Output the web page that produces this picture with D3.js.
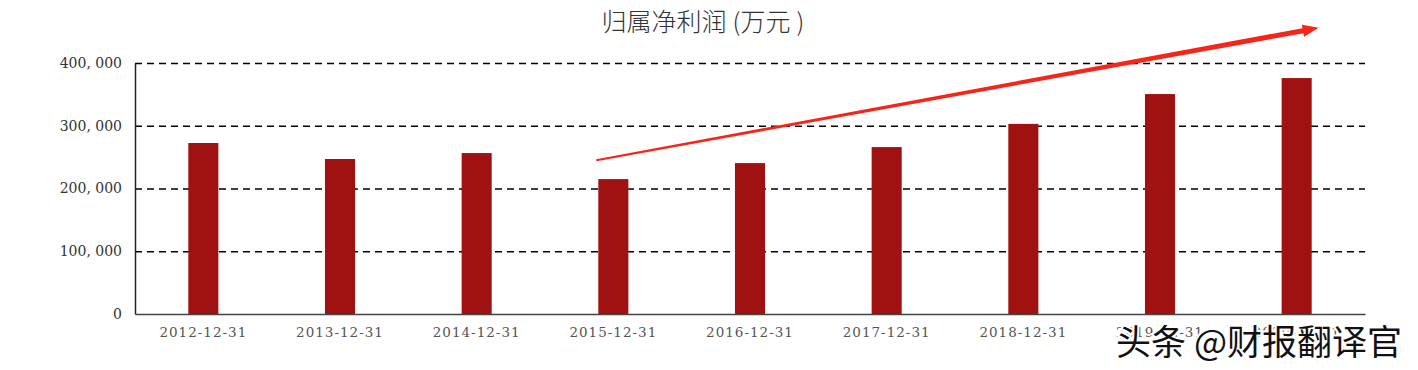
<!DOCTYPE html>
<html>
<head>
<meta charset="utf-8">
<script src="https://cdn.jsdelivr.net/npm/d3@7"></script>
<style>
  body { margin: 0; background: #fff; }
  svg { display: block; }
</style>
</head>
<body>
<div id="chart"></div>
<script>
const categories = ["2012-12-31", "2013-12-31", "2014-12-31", "2015-12-31", "2016-12-31",
  "2017-12-31", "2018-12-31", "2019-12-31", "2020-12-31"];
const profit = [272500, 247000, 256500, 215000, 240500, 266000, 303000, 350500, 376000];
const yTicks = [0, 100000, 200000, 300000, 400000];
// trend arrow, in data terms: [category, value]
const trendFrom = ["2015-12-31", 245000];
const trendTo = ["2020-12-31", 456000];

const width = 1418, height = 370;
const margin = { top: 63, right: 53, bottom: 56, left: 135 };

const svg = d3.select("#chart").append("svg")
  .attr("width", width).attr("height", height);

const x = d3.scaleBand()
  .domain(categories)
  .range([margin.left, width - margin.right])
  .paddingInner(0.78).paddingOuter(0.39);

const y = d3.scaleLinear()
  .domain([0, 400000])
  .range([height - margin.bottom, margin.top]);

const fmt = v => d3.format(",")(v).replace(/,/g, ", ");

// title
const title = svg.append("text")
  .attr("x", 703).attr("y", 31)
  .attr("text-anchor", "middle")
  .style("font-family", "'Noto Sans CJK SC', sans-serif")
  .style("font-size", "25px")
  .style("font-weight", 300)
  .style("fill", "#333");
title.append("tspan").text("归属净利润");
title.append("tspan").attr("dx", 6).text("(万元");
title.append("tspan").attr("dx", 6).text(")");

// grid
svg.append("g")
  .selectAll("line")
  .data(yTicks.filter(d => d > 0))
  .join("line")
  .attr("x1", margin.left).attr("x2", width - margin.right)
  .attr("y1", d => y(d) + 0.5).attr("y2", d => y(d) + 0.5)
  .attr("stroke", "#000")
  .attr("stroke-width", 1.4)
  .attr("stroke-dasharray", "7,5");

// y axis
const yAxis = svg.append("g")
  .attr("transform", `translate(${margin.left},0)`)
  .call(d3.axisLeft(y).tickValues(yTicks).tickFormat(fmt).tickSize(0).tickPadding(13));
yAxis.select(".domain").attr("stroke", "#222").attr("stroke-width", 1.5);
yAxis.selectAll("text")
  .style("font-family", "'DejaVu Serif', 'Liberation Serif', serif")
  .style("font-size", "14px")
  .style("fill", "#333");

// bars
svg.append("g")
  .selectAll("rect")
  .data(profit)
  .join("rect")
  .attr("x", (d, i) => x(categories[i]))
  .attr("y", d => y(d))
  .attr("width", x.bandwidth())
  .attr("height", d => y(0) - y(d))
  .attr("fill", "#a01212");

// x axis
const xAxis = svg.append("g")
  .attr("transform", `translate(0,${y(0)})`)
  .call(d3.axisBottom(x).tickSize(0).tickPadding(13));
xAxis.select(".domain").attr("stroke", "#444").attr("stroke-width", 1.5);
xAxis.selectAll("text")
  .style("font-family", "'DejaVu Serif', 'Liberation Serif', serif")
  .style("font-size", "13.5px")
  .style("letter-spacing", "1px")
  .style("fill", "#555");

// trend arrow, tapered
const x0 = x(trendFrom[0]) - 2, y0 = y(trendFrom[1]);
const x1 = x(trendTo[0]) + x.bandwidth() + 7, y1 = y(trendTo[1]);
const ang = Math.atan2(y1 - y0, x1 - x0);
const nx = -Math.sin(ang), ny = Math.cos(ang);
const headLen = 16, headW = 6;
const bx = x1 - headLen * Math.cos(ang), by = y1 - headLen * Math.sin(ang);
const w0 = 1, w1 = 2.6;
const pts = [
  [x0 + nx * w0, y0 + ny * w0],
  [bx + nx * w1, by + ny * w1],
  [bx + nx * headW, by + ny * headW],
  [x1, y1],
  [bx - nx * headW, by - ny * headW],
  [bx - nx * w1, by - ny * w1],
  [x0 - nx * w0, y0 - ny * w0]
];
svg.append("path")
  .attr("d", d3.line()(pts) + "Z")
  .attr("fill", "#f5251a");

// watermark
const wm = svg.append("text")
  .attr("x", 1402).attr("y", 355)
  .attr("text-anchor", "end")
  .style("font-family", "'Noto Sans CJK SC', sans-serif")
  .style("font-size", "35px")
  .text("头条 @财报翻译官");
wm.attr("fill", "#111")
  .attr("stroke", "#fff").attr("stroke-width", 4)
  .attr("paint-order", "stroke");
</script>
</body>
</html>
